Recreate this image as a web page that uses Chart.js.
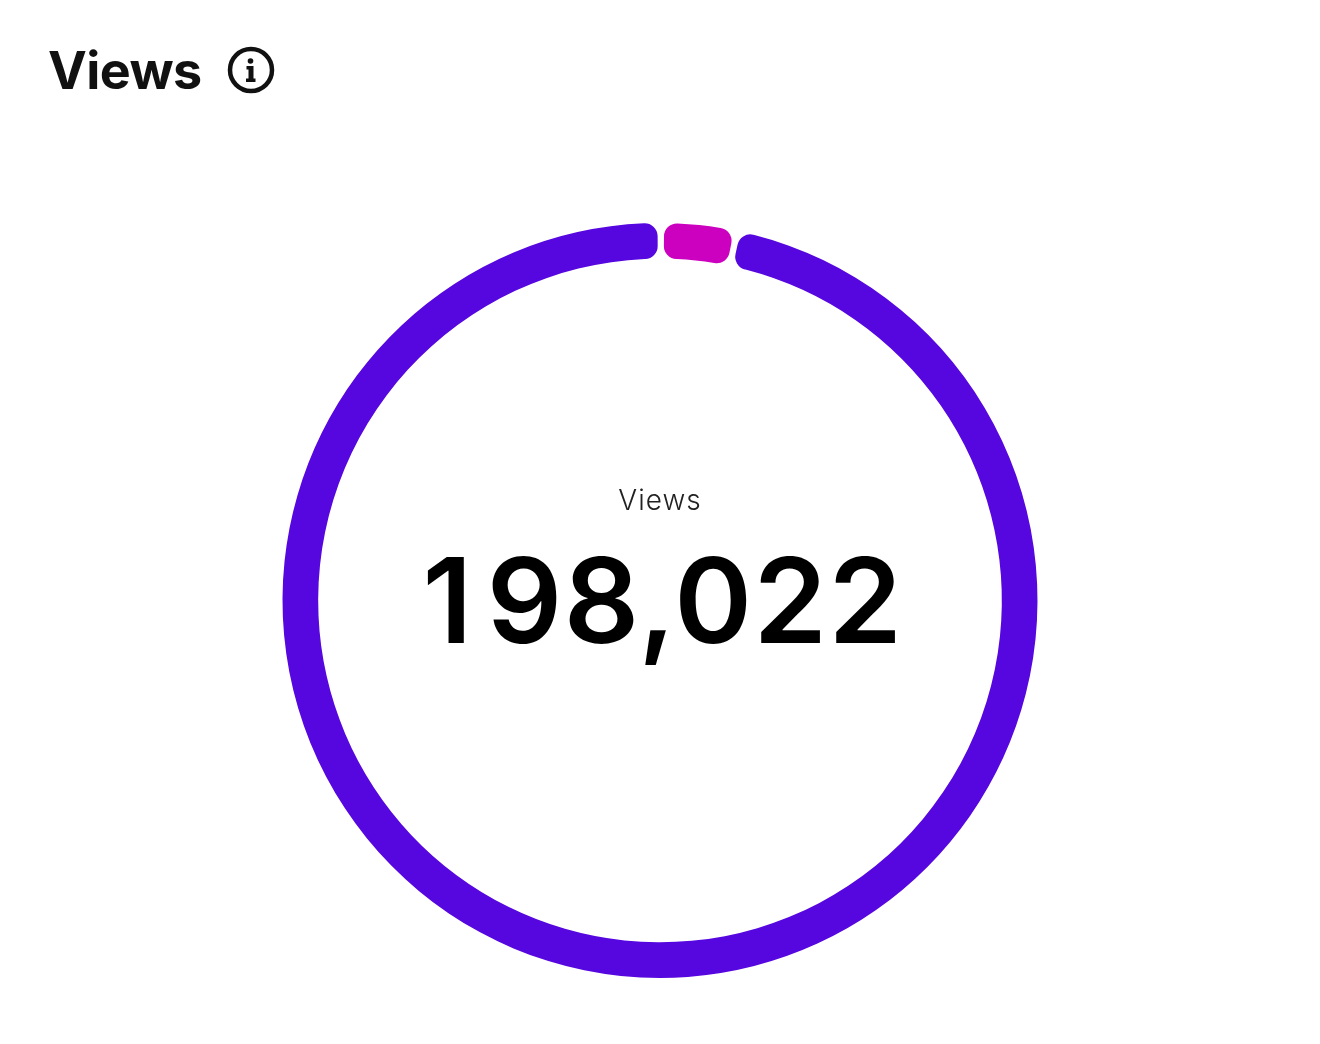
<!DOCTYPE html>
<html>
<head>
<meta charset="utf-8">
<title>Views</title>
<script src="https://cdn.jsdelivr.net/npm/chart.js@4.4.1/dist/chart.umd.min.js"></script>
<style>
    html, body { margin: 0; padding: 0; background: #fff; }
    body { position: relative; width: 1320px; height: 1044px; overflow: hidden; font-family: Inter, "Liberation Sans", sans-serif; }
    #chart { position: absolute; left: 0; top: 0; }
    #title { position: absolute; left: 48px; top: 40px; font-size: 52px; line-height: 62px; font-weight: 700; letter-spacing: -0.6px; color: #111; }
    #info { position: absolute; left: 227px; top: 46px; }
    #centerLabel { position: absolute; left: 0; width: 1320px; top: 483px; text-align: center; font-size: 28px; line-height: 34px; font-weight: 300; letter-spacing: 1px; color: #222; }
    #centerValue { position: absolute; left: 3px; width: 1320px; top: 530px; text-align: center; font-size: 118px; line-height: 140px; font-weight: 600; letter-spacing: 1.5px; color: #000; }
    #centerValue span { letter-spacing: 14.5px; }
</style>
</head>
<body>
<canvas id="chart" width="1320" height="1044"></canvas>
<div id="title"></div>
<svg id="info" width="48" height="48" viewBox="0 0 48 48">
    <circle cx="24" cy="24" r="21" fill="none" stroke="#111" stroke-width="4.5"/>
    <circle cx="23.5" cy="15" r="2.8" fill="#111"/>
    <path d="M19.5 20 H26.5 V32.5 H28.5 V36 H19 V32.5 H21.5 V23.5 H19.5 Z" fill="#111"/>
</svg>
<div id="centerLabel"></div>
<div id="centerValue"><span></span></div>
<script>
// Values
const categories = ['Other', 'Main'];
const seriesValues = [5900, 192122];
const seriesColors = ['#CC00BF', '#5606DE'];
const titleText = 'Views';
const centerLabel = 'Views';
const centerValue = '198,022';

document.getElementById('title').textContent = titleText;
document.getElementById('centerLabel').textContent = centerLabel;

// The leading 1 sits in a wider cell than the other digits
const valueEl = document.getElementById('centerValue');
valueEl.firstChild.textContent = centerValue.charAt(0);
valueEl.appendChild(document.createTextNode(centerValue.slice(1)));

new Chart(document.getElementById('chart'), {
    type: 'doughnut',
    data: {
        labels: categories,
        datasets: [{
            data: seriesValues,
            backgroundColor: seriesColors,
            borderWidth: 0,
            spacing: 4,
            borderRadius: 13
        }]
    },
    options: {
        responsive: false,
        animation: false,
        cutout: '90.5%',
        rotation: 0.6,
        layout: { padding: { left: 282, right: 282, top: 223, bottom: 66 } },
        plugins: {
            legend: { display: false },
            tooltip: { enabled: false }
        }
    }
});
</script>
</body>
</html>
